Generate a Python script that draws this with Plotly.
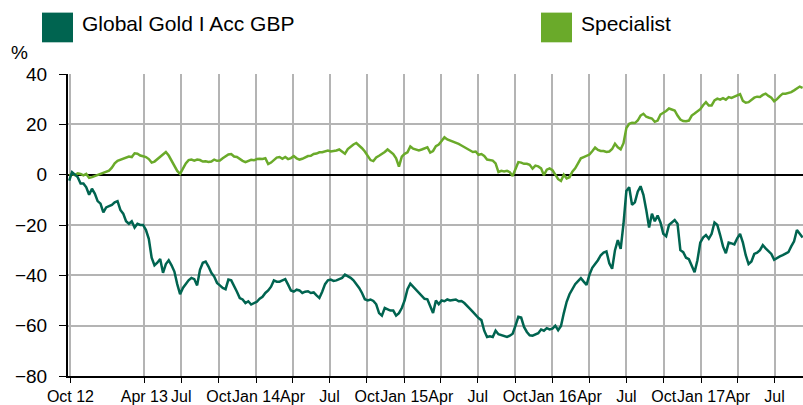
import pandas as pd
import plotly.graph_objects as go

# Weekly cumulative performance (%), from the week ending 28 Sep 2012
global_gold = [
    -2.4, 1, 0, -1, -3.5, -3.5, -5, -8, -5.6, -7.5,
    -10.5, -11.5, -15, -13, -12.5, -12, -11, -10.5, -14, -15.5,
    -18.5, -19.5, -18.5, -21, -19.5, -20, -20, -22, -25.5, -33,
    -36, -35, -33.5, -39, -35.5, -34, -36, -38.5, -43.5, -47.5,
    -45, -43.5, -42, -41, -41.5, -44, -37.8, -35, -34.5, -36.5,
    -39, -40.5, -43, -44, -45, -45.5, -41.7, -42, -44, -46.5,
    -49, -49.6, -51, -50.3, -51.6, -51, -50.5, -49.3, -48.5, -47,
    -46, -44.5, -42, -42.5, -42.5, -42, -41.5, -43.7, -46, -46.5,
    -45.7, -46, -47, -46.5, -46.3, -47, -46.8, -48, -49, -46.5,
    -43.5, -42, -41.7, -42.2, -42, -41.5, -41, -39.7, -40.2, -41,
    -42, -43.5, -45, -47, -49.5, -50, -49.6, -50.2, -51.5, -55,
    -56, -53, -53.5, -54, -54, -56, -55, -53, -50, -45.5,
    -43.3, -44.5, -46, -47, -48.5, -49.3, -49.5, -52.5, -55, -50,
    -51.5, -50, -50.3, -49.6, -50, -49.8, -49.6, -50.3, -50.2, -51,
    -52, -53.3, -54.5, -55.8, -57, -57.8, -62, -64.5, -64.2, -64.5,
    -62, -63.4, -63.8, -64, -64.5, -64, -63.2, -60, -56.5, -56.8,
    -60.5, -62.5, -63.8, -64, -63.5, -63, -61.5, -62, -61, -61.5,
    -61.2, -60, -61.8, -60.1, -55, -50.5, -47.5, -45.2, -43.5, -42.3,
    -41.1, -42.5, -43.8, -39.8, -37, -35.5, -34, -32, -31, -30.5,
    -35.2, -37.4, -30, -26, -29.5, -19.5, -6.5, -5, -12, -11,
    -6.8, -4.6, -8, -14, -21, -15.5, -18.5, -16.2, -19, -23.5,
    -24.5, -20, -18.8, -18, -19.5, -30, -30.8, -33, -33.6, -36.5,
    -38.8, -34, -27, -25, -24, -25.5, -23.5, -19, -20, -24,
    -28.5, -31.2, -27, -27.3, -27.7, -25.3, -23.5, -27, -32, -35.5,
    -34.5, -31.5, -31, -30, -28, -29.3, -30.3, -31.5, -33.8, -33,
    -32.5, -32, -31.5, -30.8, -28.5, -26.5, -22, -23.5, -25,
]

specialist = [
    -0.4, 0.3, -0.2, 0.5, 0.3, -0.3, 0.3, -1.3, -1, -0.6,
    0, 0.4, 0.9, 1.3, 1.6, 2.8, 4.5, 5.5, 6.0, 6.2,
    6.8, 7.2, 7.0, 8.5, 8.3, 7.6, 7.3, 7.0, 6.2, 4.8,
    5.2, 6.2, 7.2, 8.0, 9.0, 7.6, 5.5, 3.5, 1.5, 0.3,
    2.5, 4.5, 5.8, 6.0, 5.6, 6.0, 5.8, 5.2, 5.3, 5.0,
    5.2, 6.0, 5.5, 5.6, 6.5, 7.2, 8.0, 8.2, 7.2, 7.0,
    6.2, 5.5, 5.0, 5.3, 5.9, 5.7, 6.2, 6.3, 6.2, 6.5,
    4.2, 4.8, 6.0, 6.8, 7.0, 6.3, 7.0, 6.2, 6.6, 7.4,
    6.5, 6.0, 6.3, 7.0, 7.4, 7.5, 8.2, 8.4, 8.9, 8.9,
    9.3, 9.6, 9.2, 9.3, 9.6, 10, 9.3, 8.3, 10.2, 11.3,
    12.0, 12.6, 11.6, 10.5, 9.2, 7.6, 5.8, 5.4, 6.8, 7.5,
    8.2, 9, 10, 9.2, 8.2, 6.5, 3.2, 7.2, 8.3, 8.9,
    11.2, 10.3, 9.8, 9.6, 10, 10.3, 10.9, 8.8, 9.4, 11.3,
    12.0, 13.4, 14.9, 14.0, 13.6, 13.2, 12.7, 12.2, 11.6, 11.0,
    10.4, 9.6, 9.0, 9.2, 7.9, 8.2, 7.4, 6.0, 5.7, 5.6,
    4.5, 1.0, 1.5, 1.3, 1.5, 1, -0.5, 2.5, 5.0, 4.8,
    4.3, 4.3, 3.9, 2.4, 3.6, 3.3, 2.5, -0.2, 2.0, 2.5,
    1.8, 0, -1.8, -2.5, 0, -1.5, -1, 1.2, 2.5, 4.5,
    6.5, 7, 7.5, 8, 9.3, 10.8, 9.8, 9.4, 9.4, 9,
    9.2, 10.2, 12.3, 10.9, 10.1, 12.5, 18.5, 20.2, 20.6, 20.5,
    21.5, 23.5, 24.2, 23, 22.6, 22.3, 21, 21.5, 23.9, 24.5,
    25.3, 26.3, 26, 25.5, 23.5, 21.9, 21.3, 21.2, 21.5, 23.5,
    24.3, 25.2, 26, 27.6, 28.8, 27.5, 27.5, 29.5, 30.2, 29.8,
    30.4, 29.8, 30.8, 30.5, 31, 31.3, 32, 29.3, 28.6, 28.8,
    29.8, 30.6, 31, 30.9, 31.7, 32.2, 31.3, 30.6, 29.2, 30,
    31.2, 32.2, 32.2, 32.5, 32.8, 33.5, 34.3, 35, 34.5,
]

dates = pd.date_range("2012-09-28", periods=len(global_gold), freq="7D")

tick_dates = [
    "2012-10-01", "2013-04-01", "2013-07-01", "2013-10-01", "2014-01-01",
    "2014-04-01", "2014-07-01", "2014-10-01", "2015-01-01", "2015-04-01",
    "2015-07-01", "2015-10-01", "2016-01-01", "2016-04-01", "2016-07-01",
    "2016-10-01", "2017-01-01", "2017-04-01", "2017-07-01",
]
tick_labels = [
    "Oct 12", "Apr 13", "Jul", "Oct", "Jan 14", "Apr", "Jul", "Oct", "Jan 15",
    "Apr", "Jul", "Oct", "Jan 16", "Apr", "Jul", "Oct", "Jan 17", "Apr", "Jul",
]
y_ticks = [40, 20, 0, -20, -40, -60, -80]

series_names = ["Global Gold I Acc GBP", "Specialist"]
series_colors = ["#006450", "#6aaa2a"]

FONT = "Liberation Sans, Arial, sans-serif"

fig = go.Figure()
fig.add_trace(go.Scatter(x=dates, y=specialist, mode="lines", name=series_names[1],
                         line=dict(color=series_colors[1], width=2.5), showlegend=False))
fig.add_trace(go.Scatter(x=dates, y=global_gold, mode="lines", name=series_names[0],
                         line=dict(color=series_colors[0], width=2.5), showlegend=False))

W, H = 803, 405
ml, mr, mt, mb = 68, 0, 74, 26

fig.update_layout(
    width=W, height=H,
    margin=dict(l=ml, r=mr, t=mt, b=mb),
    paper_bgcolor="white", plot_bgcolor="white",
    font=dict(family=FONT, color="#000000"),
    xaxis=dict(
        type="date", range=["2012-09-25", "2017-09-09"],
        tickvals=tick_dates, ticktext=tick_labels,
        showgrid=True, gridcolor="#b4b4b4", gridwidth=2,
        showline=True, linecolor="#000000", linewidth=2,
        ticks="outside", ticklen=5, tickwidth=1, tickcolor="#000000",
        tickfont=dict(size=16, family=FONT), tickangle=0,
        zeroline=False,
    ),
    yaxis=dict(
        range=[-80, 40], tickvals=y_ticks,
        showgrid=True, gridcolor="#b4b4b4", gridwidth=2,
        zeroline=True, zerolinecolor="#000000", zerolinewidth=2,
        showline=True, linecolor="#000000", linewidth=2,
        ticks="outside", ticklen=7, tickwidth=1, tickcolor="#000000",
        tickfont=dict(size=19, family=FONT),
        ticklabelstandoff=8,
    ),
)

pw, ph = W - ml - mr, H - mt - mb

def px_x(px):
    return (px - ml) / pw

def px_y(py):
    return (H - mb - py) / ph

# "%" unit label above the value axis
fig.add_annotation(text="%", xref="paper", yref="paper",
                   x=px_x(20), y=px_y(52),
                   xanchor="center", yanchor="middle", showarrow=False,
                   font=dict(size=19, family=FONT))

# Legend built from square swatches and labels
legend_pos = [(42, 80), (541, 579)]
for name, color, (sx, tx) in zip(series_names, series_colors, legend_pos):
    fig.add_shape(type="rect", xref="paper", yref="paper",
                  x0=px_x(sx), x1=px_x(sx + 31), y0=px_y(42), y1=px_y(12),
                  fillcolor=color, line=dict(width=0))
    fig.add_annotation(text=name, xref="paper", yref="paper",
                       x=px_x(tx), y=px_y(23), xanchor="left", yanchor="middle",
                       showarrow=False, font=dict(size=21, family=FONT))

fig.write_html("out.html")
